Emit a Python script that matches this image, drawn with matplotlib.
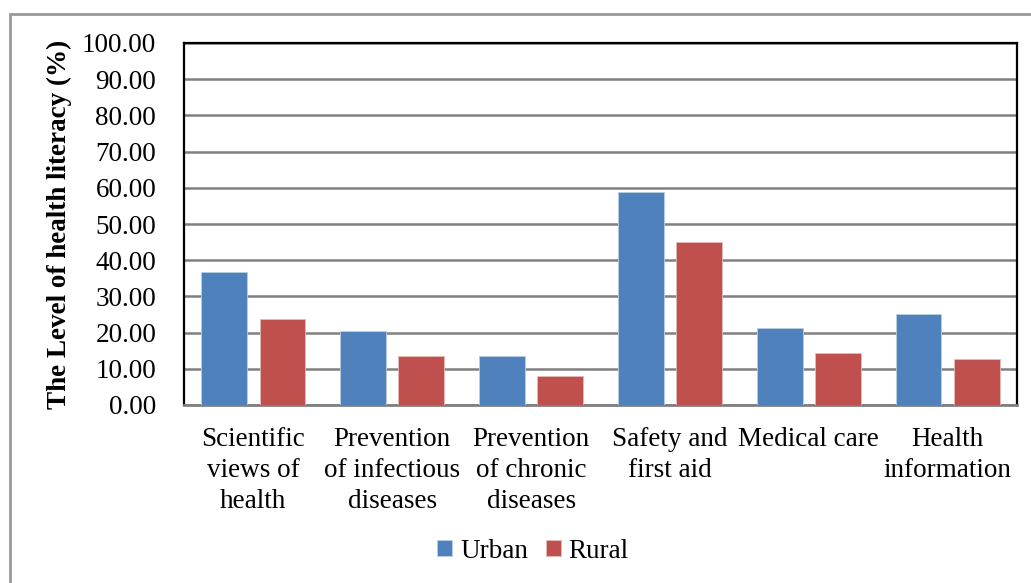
import numpy as np
import matplotlib.pyplot as plt
from matplotlib.patches import Rectangle

categories = ['Scientific\nviews of\nhealth', 'Prevention\nof infectious\ndiseases',
              'Prevention\nof chronic\ndiseases', 'Safety and\nfirst aid',
              'Medical care', 'Health\ninformation']
urban = [36.8, 20.5, 13.6, 58.8, 21.3, 25.2]
rural = [23.7, 13.5, 8.0, 44.9, 14.3, 12.6]
yticks = np.arange(0, 101, 10)

plt.rcParams['font.family'] = ['Liberation Serif', 'DejaVu Serif']

fig = plt.figure(figsize=(10.31, 5.83), dpi=100)
# outer chart border
fig.patches.append(Rectangle((10/1031, -0.1), 1.1, 1 - 14/583 + 0.1, transform=fig.transFigure,
                             fill=False, edgecolor='#999999', linewidth=2))
ax = fig.add_axes([184/1031, 1 - 405/583, 833/1031, 362/583])

x = np.arange(len(categories))
w = 0.33
ax.bar(x - 0.21, urban, w, color='#4f81bd', edgecolor='#b9cde5', linewidth=0.6, label='Urban', zorder=3)
ax.bar(x + 0.21, rural, w, color='#c0504d', edgecolor='#e6b9b8', linewidth=0.6, label='Rural', zorder=3)

ax.set_xlim(-0.5, len(categories) - 0.5)
ax.set_ylim(0, 100)
ax.set_yticks(yticks)
ax.set_yticklabels(['%.2f' % v for v in yticks], fontsize=19.5)
ax.set_xticks(x)
ax.set_xticklabels(categories, fontsize=19.5, linespacing=1.3)
ax.tick_params(axis='both', length=0)
ax.tick_params(axis='y', pad=20)
ax.tick_params(axis='x', pad=16)
ax.grid(axis='y', color='#808080', linewidth=1.8, zorder=0)
for s in ['left', 'top', 'right']:
    ax.spines[s].set_linewidth(1.6)
    ax.spines[s].set_color('black')
ax.spines['bottom'].set_color('#808080')
ax.spines['bottom'].set_linewidth(2)

ax.set_ylabel('The Level of health literacy (%)', fontsize=19.5, fontweight='bold')
ax.yaxis.set_label_coords(-0.135, 0.5)

fig.legend(loc='center', bbox_to_anchor=(533/1031, 1 - 551/583), ncol=2, frameon=False,
           fontsize=19.5, handlelength=0.55, handleheight=0.55, handletextpad=0.3, columnspacing=0.65)

fig.savefig('out.png', dpi=100)
